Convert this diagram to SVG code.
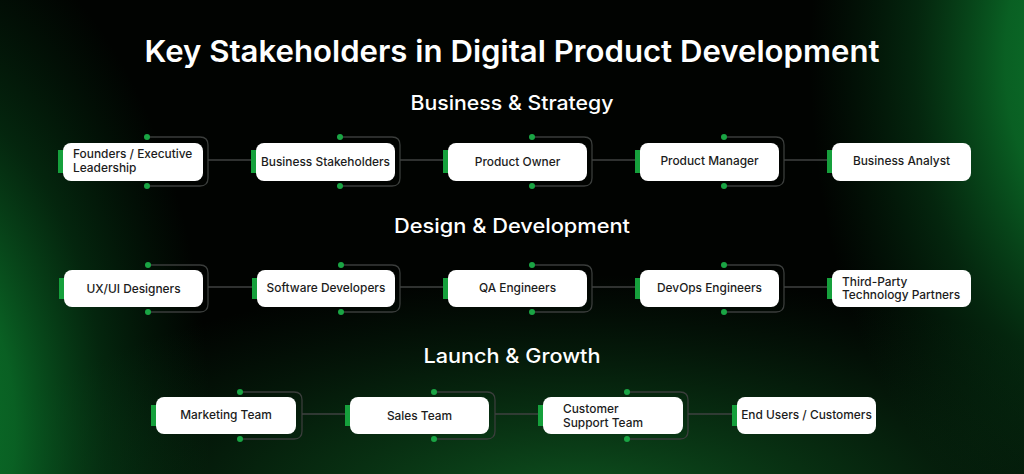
<svg xmlns="http://www.w3.org/2000/svg" width="1024" height="474" viewBox="0 0 1024 474">
<defs>
  <radialGradient id="gL" gradientUnits="userSpaceOnUse" cx="0" cy="0" r="1" gradientTransform="translate(-90 430) scale(300 520)">
    <stop offset="0" stop-color="#0c802f"/>
    <stop offset="0.35" stop-color="#0b7029" stop-opacity="0.85"/>
    <stop offset="0.65" stop-color="#095a21" stop-opacity="0.4"/>
    <stop offset="1" stop-color="#064a1a" stop-opacity="0"/>
  </radialGradient>
  <radialGradient id="gR" gradientUnits="userSpaceOnUse" cx="0" cy="0" r="1" gradientTransform="translate(1110 60) scale(300 500)">
    <stop offset="0" stop-color="#0c802f"/>
    <stop offset="0.35" stop-color="#0b7029" stop-opacity="0.85"/>
    <stop offset="0.65" stop-color="#095a21" stop-opacity="0.4"/>
    <stop offset="1" stop-color="#064a1a" stop-opacity="0"/>
  </radialGradient>
  <radialGradient id="gB" gradientUnits="userSpaceOnUse" cx="0" cy="0" r="1" gradientTransform="translate(580 505) scale(620 230)">
    <stop offset="0" stop-color="#0f5a22" stop-opacity="0.95"/>
    <stop offset="0.5" stop-color="#0c4a1c" stop-opacity="0.5"/>
    <stop offset="1" stop-color="#0a3a18" stop-opacity="0"/>
  </radialGradient>
  <style>
    .title{font-family:Inter,"Noto Sans","Liberation Sans",sans-serif;font-weight:600;fill:#fff}
    .head{font-family:Inter,"Noto Sans","Liberation Sans",sans-serif;font-weight:500;fill:#fff}
    .box{fill:#fff}
    .tab{fill:#16a03c}
    .dot{fill:#1aa544}
    .br{fill:none;stroke:#3a3d3b;stroke-width:1.3}
    .ln{fill:none;stroke:#3f4240;stroke-width:1.3}
    .lbl{font-family:Inter,"Noto Sans","Liberation Sans",sans-serif;font-weight:500;font-size:11.9px;fill:#1c1c1c}
  </style>
</defs>
<rect width="1024" height="474" fill="#010301"/>
<rect width="1024" height="474" fill="url(#gB)"/>
<rect width="1024" height="474" fill="url(#gL)"/>
<rect width="1024" height="474" fill="url(#gR)"/>

<text class="title" x="512" y="62" font-size="30" text-anchor="middle" textLength="735" lengthAdjust="spacingAndGlyphs">Key Stakeholders in Digital Product Development</text>
<text class="head" x="512" y="110" font-size="20" text-anchor="middle" textLength="203" lengthAdjust="spacingAndGlyphs">Business &amp; Strategy</text>
<text class="head" x="512" y="233" font-size="20" text-anchor="middle" textLength="236" lengthAdjust="spacingAndGlyphs">Design &amp; Development</text>
<text class="head" x="512" y="363" font-size="20" text-anchor="middle" textLength="177" lengthAdjust="spacingAndGlyphs">Launch &amp; Growth</text>

<g id="connectors">
  <path class="br" d="M147 137 H200 Q208 137 208 145 V178 Q208 186 200 186 H147"/>
  <path class="br" d="M340 137 H392 Q400 137 400 145 V178 Q400 186 392 186 H340"/>
  <path class="br" d="M532 137 H584 Q592 137 592 145 V178 Q592 186 584 186 H532"/>
  <path class="br" d="M724 137 H776 Q784 137 784 145 V178 Q784 186 776 186 H724"/>
  <line class="ln" x1="208" y1="160" x2="251" y2="160"/>
  <line class="ln" x1="400" y1="160" x2="443" y2="160"/>
  <line class="ln" x1="592" y1="160" x2="635" y2="160"/>
  <line class="ln" x1="784" y1="160" x2="827" y2="160"/>
  <path class="br" d="M148 265 H200 Q208 265 208 273 V304 Q208 312 200 312 H148"/>
  <path class="br" d="M341 265 H392 Q400 265 400 273 V304 Q400 312 392 312 H341"/>
  <path class="br" d="M532 265 H584 Q592 265 592 273 V304 Q592 312 584 312 H532"/>
  <path class="br" d="M724 265 H776 Q784 265 784 273 V304 Q784 312 776 312 H724"/>
  <line class="ln" x1="208" y1="287" x2="252" y2="287"/>
  <line class="ln" x1="400" y1="287" x2="443" y2="287"/>
  <line class="ln" x1="592" y1="287" x2="635" y2="287"/>
  <line class="ln" x1="784" y1="287" x2="827" y2="287"/>
  <path class="br" d="M240 392 H294 Q302 392 302 400 V431 Q302 439 294 439 H240"/>
  <path class="br" d="M434 392 H487 Q495 392 495 400 V431 Q495 439 487 439 H434"/>
  <path class="br" d="M627 392 H680 Q688 392 688 400 V431 Q688 439 680 439 H627"/>
  <line class="ln" x1="302" y1="414" x2="345" y2="414"/>
  <line class="ln" x1="495" y1="414" x2="538" y2="414"/>
  <line class="ln" x1="688" y1="414" x2="732" y2="414"/>
</g>

<g id="n-founders">
  <rect class="tab" x="58" y="150" width="7" height="23"/>
  <rect class="box" x="63" y="143" width="140" height="38" rx="8"/>
  <circle class="dot" cx="147" cy="137" r="3"/><circle class="dot" cx="147" cy="186" r="3"/>
  <text class="lbl" x="73" y="158">Founders / Executive</text>
  <text class="lbl" x="73" y="172">Leadership</text>
</g>
<g id="n-business-stakeholders">
  <rect class="tab" x="251" y="150" width="7" height="23"/>
  <rect class="box" x="256" y="143" width="139" height="38" rx="8"/>
  <circle class="dot" cx="340" cy="137" r="3"/><circle class="dot" cx="340" cy="186" r="3"/>
  <text class="lbl" x="325.5" y="166" text-anchor="middle">Business Stakeholders</text>
</g>
<g id="n-product-owner">
  <rect class="tab" x="443" y="150" width="7" height="23"/>
  <rect class="box" x="448" y="143" width="139" height="38" rx="8"/>
  <circle class="dot" cx="532" cy="137" r="3"/><circle class="dot" cx="532" cy="186" r="3"/>
  <text class="lbl" x="517.5" y="166" text-anchor="middle">Product Owner</text>
</g>
<g id="n-product-manager">
  <rect class="tab" x="635" y="150" width="7" height="23"/>
  <rect class="box" x="640" y="143" width="139" height="38" rx="8"/>
  <circle class="dot" cx="724" cy="137" r="3"/><circle class="dot" cx="724" cy="186" r="3"/>
  <text class="lbl" x="709.5" y="165" text-anchor="middle">Product Manager</text>
</g>
<g id="n-business-analyst">
  <rect class="tab" x="827" y="150" width="7" height="23"/>
  <rect class="box" x="832" y="143" width="139" height="38" rx="8"/>
  <text class="lbl" x="901.5" y="165" text-anchor="middle">Business Analyst</text>
</g>

<g id="n-uxui">
  <rect class="tab" x="59" y="278" width="7" height="21"/>
  <rect class="box" x="64" y="270" width="139" height="37" rx="8"/>
  <circle class="dot" cx="148" cy="265" r="3"/><circle class="dot" cx="148" cy="312" r="3"/>
  <text class="lbl" x="133.5" y="293" text-anchor="middle">UX/UI Designers</text>
</g>
<g id="n-software-dev">
  <rect class="tab" x="252" y="278" width="7" height="21"/>
  <rect class="box" x="257" y="270" width="138" height="37" rx="8"/>
  <circle class="dot" cx="341" cy="265" r="3"/><circle class="dot" cx="341" cy="312" r="3"/>
  <text class="lbl" x="326" y="292" text-anchor="middle">Software Developers</text>
</g>
<g id="n-qa">
  <rect class="tab" x="443" y="278" width="7" height="21"/>
  <rect class="box" x="448" y="270" width="139" height="37" rx="8"/>
  <circle class="dot" cx="532" cy="265" r="3"/><circle class="dot" cx="532" cy="312" r="3"/>
  <text class="lbl" x="517.5" y="292" text-anchor="middle">QA Engineers</text>
</g>
<g id="n-devops">
  <rect class="tab" x="635" y="278" width="7" height="21"/>
  <rect class="box" x="640" y="270" width="139" height="37" rx="8"/>
  <circle class="dot" cx="724" cy="265" r="3"/><circle class="dot" cx="724" cy="312" r="3"/>
  <text class="lbl" x="709.5" y="292" text-anchor="middle">DevOps Engineers</text>
</g>
<g id="n-third-party">
  <rect class="tab" x="827" y="278" width="7" height="21"/>
  <rect class="box" x="832" y="270" width="139" height="37" rx="8"/>
  <text class="lbl" x="842" y="286">Third-Party</text>
  <text class="lbl" x="842" y="299">Technology Partners</text>
</g>

<g id="n-marketing">
  <rect class="tab" x="151" y="405" width="7" height="21"/>
  <rect class="box" x="156" y="397" width="140" height="37" rx="8"/>
  <circle class="dot" cx="240" cy="392" r="3"/><circle class="dot" cx="240" cy="439" r="3"/>
  <text class="lbl" x="226" y="419" text-anchor="middle">Marketing Team</text>
</g>
<g id="n-sales">
  <rect class="tab" x="345" y="405" width="7" height="21"/>
  <rect class="box" x="350" y="397" width="139" height="37" rx="8"/>
  <circle class="dot" cx="434" cy="392" r="3"/><circle class="dot" cx="434" cy="439" r="3"/>
  <text class="lbl" x="419.5" y="420" text-anchor="middle">Sales Team</text>
</g>
<g id="n-support">
  <rect class="tab" x="538" y="405" width="7" height="21"/>
  <rect class="box" x="543" y="397" width="140" height="37" rx="8"/>
  <circle class="dot" cx="627" cy="392" r="3"/><circle class="dot" cx="627" cy="439" r="3"/>
  <text class="lbl" x="563" y="413">Customer</text>
  <text class="lbl" x="563" y="427">Support Team</text>
</g>
<g id="n-end-users">
  <rect class="tab" x="732" y="405" width="7" height="21"/>
  <rect class="box" x="737" y="397" width="139" height="37" rx="8"/>
  <text class="lbl" x="806.5" y="419" text-anchor="middle">End Users / Customers</text>
</g>
</svg>
